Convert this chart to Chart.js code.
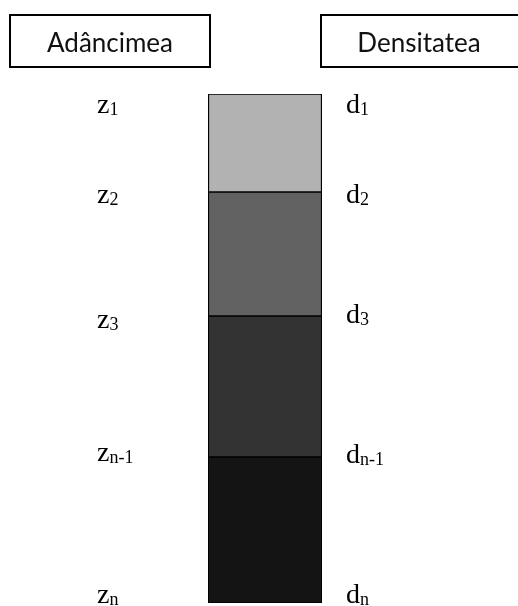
<!DOCTYPE html>
<html>
<head>
<meta charset="utf-8">
<script src="https://cdn.jsdelivr.net/npm/chart.js@4.4.1/dist/chart.umd.min.js"></script>
<style>
  html, body { margin: 0; padding: 0; background: #fff; }
  canvas { display: block; }
</style>
</head>
<body>
<canvas id="coloana" width="518" height="606"></canvas>
<script>
// adancimile limitelor dintre straturi (z1 ... zn)
const depths = [0, 98, 222, 363, 509]
const depthSubs = ['1', '2', '3', 'n-1', 'n']
const densSubs = ['1', '2', '3', 'n-1', 'n']
const layerColors = ['#b2b2b2', '#626262', '#333333', '#141414']
const headers = ['Adâncimea', 'Densitatea']

// small offsets so labels sit like in the original drawing
const zOffset = [19, 11, 12, 4, 0]
const dOffset = [19, 11, 7, 6, 0]

let layers = []
for (let i = 0; i < depths.length - 1; i++) {
	layers.push({
		label: 'strat ' + (i + 1),
		data: [[depths[i], depths[i + 1]]],
		backgroundColor: layerColors[i],
		borderColor: '#000',
		borderWidth: { top: 1, bottom: 1, left: 1.5, right: 1.5 },
		borderSkipped: false,
		grouped: false,
		barPercentage: 1,
		categoryPercentage: 1
	})
}

function subLabel(ctx, x, y, main, sub) {
	ctx.font = '28px "Liberation Serif", "Times New Roman", serif'
	ctx.fillText(main, x, y)
	let w = ctx.measureText(main).width
	ctx.font = '18px "Liberation Serif", "Times New Roman", serif'
	ctx.fillText(sub, x + w, y + 2)
}

const headerPlugin = {
	id: 'headers',
	beforeDraw(chart) {
		const ctx = chart.ctx
		ctx.save()
		ctx.strokeStyle = '#000'
		ctx.lineWidth = 2
		ctx.strokeRect(10, 15, 200, 52)
		ctx.strokeRect(321, 15, 210, 52)
		ctx.fillStyle = '#111'
		ctx.font = '26px Lato, "Open Sans", sans-serif'
		ctx.textBaseline = 'alphabetic'
		ctx.textAlign = 'center'
		ctx.fillText(headers[0], 110, 52)
		ctx.fillText(headers[1], 419, 52)
		ctx.restore()
	}
}

const labelPlugin = {
	id: 'depthLabels',
	afterDatasetsDraw(chart) {
		const ctx = chart.ctx
		const y = chart.scales.y
		ctx.save()
		ctx.fillStyle = '#000'
		ctx.textAlign = 'left'
		ctx.textBaseline = 'alphabetic'
		depths.forEach((d, i) => {
			let py = y.getPixelForValue(d)
			subLabel(ctx, 97, py + zOffset[i], 'z', depthSubs[i])
			subLabel(ctx, 346, py + dOffset[i], 'd', densSubs[i])
		})
		ctx.restore()
	}
}

new Chart(document.getElementById('coloana'), {
	type: 'bar',
	data: {
		labels: ['coloana'],
		datasets: layers
	},
	options: {
		responsive: false,
		animation: false,
		layout: {
			padding: { left: 208, right: 196, top: 94, bottom: 3 }
		},
		plugins: {
			legend: { display: false },
			tooltip: { enabled: false },
			title: { display: false }
		},
		scales: {
			x: { display: false },
			y: {
				display: false,
				reverse: true,
				min: depths[0],
				max: depths[depths.length - 1]
			}
		}
	},
	plugins: [headerPlugin, labelPlugin]
})
</script>
</body>
</html>
